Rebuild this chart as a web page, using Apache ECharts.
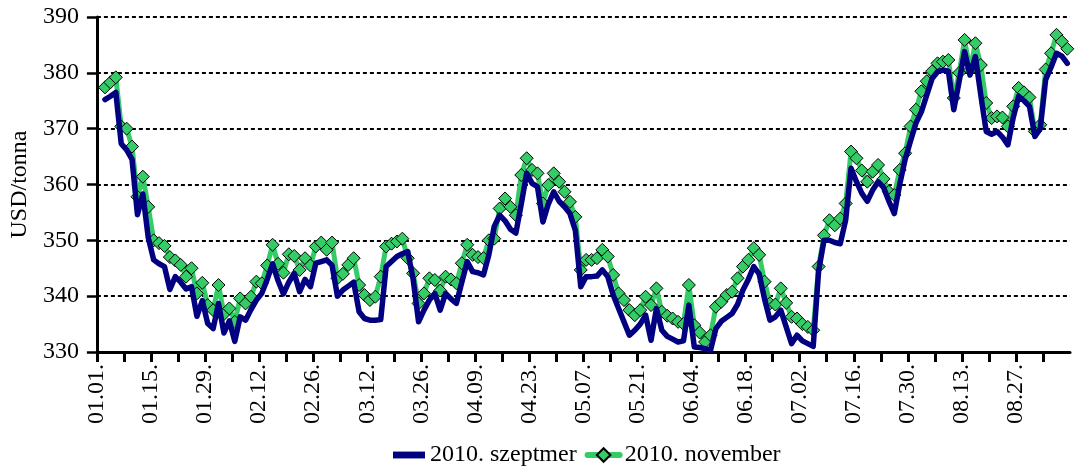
<!DOCTYPE html>
<html>
<head>
<meta charset="utf-8">
<script src="https://cdn.jsdelivr.net/npm/echarts@6/dist/echarts.min.js"></script>
<style>
html,body{margin:0;padding:0;background:#fff;}
#chart{width:1079px;height:468px;}
</style>
</head>
<body>
<div id="chart"></div>
<script>
// Tick labels: every 10th trading day (weekdays from 2010.01.01)
const tickLabels = ['01.01.','01.15.','01.29.','02.12.','02.26.','03.12.','03.26.','04.09.','04.23.','05.07.','05.21.','06.04.','06.18.','07.02.','07.16.','07.30.','08.13.','08.27.'];

// 2010. szeptember contract (USD/tonna), one value per weekday (index 0 = 01.01.)
const sept = [
 null,375.2,375.8,376.5,367.3,366.2,364.5,354.6,358.3,350.5,
 346.5,345.8,345.3,341.2,343.5,342.5,341.3,341.7,336.4,339.2,
 335.1,334.2,338.7,333.4,335.6,331.9,336.3,335.7,337.6,339.3,
 340.5,343.0,345.8,342.8,340.4,342.5,344.1,340.8,343.0,341.7,
 345.9,346.2,346.5,345.5,340.0,341.1,341.8,342.5,337.2,336.0,
 335.7,335.7,335.8,345.3,346.2,347.1,347.6,348.0,343.0,335.4,
 337.5,339.3,340.5,337.5,340.5,339.5,338.7,342.5,346.2,344.4,
 344.2,343.8,347.4,352.5,354.5,353.5,352.0,351.3,356.5,362.0,
 360.2,359.6,353.3,356.5,358.7,357.0,356.0,354.8,351.8,341.7,
 343.5,343.5,343.6,344.7,343.5,340.2,337.8,335.4,333.0,333.9,
 335.0,336.6,332.1,337.8,333.9,332.8,332.3,331.8,332.0,338.4,
 330.9,330.8,330.6,330.3,334.2,335.5,336.2,336.9,338.5,341.1,
 343.0,345.3,344.0,339.5,335.7,336.3,337.5,334.5,331.5,333.0,
 332.0,331.5,331.0,344.5,350.0,350.0,349.6,349.4,353.6,362.9,
 360.5,358.4,357.0,359.0,360.5,359.5,357.0,354.8,360.0,364.5,
 367.8,371.0,373.0,376.0,379.0,380.2,380.5,380.3,373.4,378.5,
 383.8,379.6,382.9,376.0,369.5,369.0,369.5,368.5,367.1,372.0,
 375.8,375.0,374.0,368.6,370.0,378.8,381.0,383.5,383.0,381.7
];

// 2010. november contract (USD/tonna)
const nov = [
 null,377.4,378.3,379.2,370.4,370.0,366.8,357.8,361.4,356.0,
 350.0,349.5,349.0,347.0,346.4,345.6,343.5,345.0,340.5,342.4,
 338.4,337.5,342.0,336.8,337.8,335.4,339.6,338.7,339.9,342.6,
 342.3,345.5,349.2,345.8,344.2,347.5,347.2,344.7,346.8,345.5,
 348.9,349.6,348.3,349.6,343.2,344.0,345.6,346.8,342.0,340.2,
 339.3,339.9,343.5,348.9,349.4,349.8,350.3,346.8,344.1,338.7,
 340.5,343.2,342.9,341.0,343.5,343.0,342.3,345.9,349.2,347.4,
 347.0,346.8,350.0,350.3,355.7,357.5,356.0,354.5,361.7,364.7,
 362.6,362.0,356.6,359.9,362.0,360.5,358.7,356.9,354.2,344.7,
 346.5,346.5,346.8,348.3,347.1,343.8,340.5,339.3,337.5,336.6,
 337.5,339.9,338.4,341.4,337.2,336.5,336.0,335.4,335.0,342.0,
 334.8,333.5,331.8,333.0,338.1,339.0,340.2,340.8,343.2,345.3,
 346.5,348.6,347.4,342.6,338.7,338.5,341.4,338.8,336.3,336.0,
 335.0,334.5,333.9,345.3,350.9,353.6,352.7,353.9,356.6,365.9,
 364.7,362.5,360.5,362.3,363.5,361.0,358.7,358.1,362.6,365.6,
 370.4,373.4,376.7,378.5,380.3,381.7,382.0,382.3,375.5,380.0,
 385.9,380.5,385.3,381.4,374.6,371.9,372.2,372.0,370.4,374.0,
 377.3,376.5,375.6,369.5,370.7,380.6,383.5,386.8,385.6,384.3
];

const seriesNames = ['2010. szeptmer', '2010. november'];
const yTicks = {min: 330, max: 390, step: 10};

function toPairs(arr) {
  const out = [];
  arr.forEach(function (v, i) { if (v !== null) out.push([i + 0.5, v]); });
  return out;
}
const nDays = sept.length;
const tickVals = [];
for (let k = 0; k < nDays; k += 5) tickVals.push(k);
const labelVals = tickLabels.map(function (_, k) { return k * 10; });

const FONT = "'Liberation Serif', 'Times New Roman', serif";
const chart = echarts.init(document.getElementById('chart'), null, {renderer: 'canvas'});
chart.setOption({
  animation: false,
  backgroundColor: '#fff',
  grid: {left: 94, right: 9, top: 17, bottom: 116, containLabel: false},
  legend: {
    data: [
      {name: seriesNames[0], icon: 'path://M0,0 L28,0 L28,6 L0,6 Z'},
      {name: seriesNames[1], lineStyle: {width: 6, color: '#33CC66'}}
    ],
    left: 388, top: 438,
    itemWidth: 32, itemHeight: 17, itemGap: 8,
    textStyle: {fontFamily: FONT, fontSize: 24, color: '#000'}
  },
  xAxis: {
    type: 'value', min: 0, max: nDays,
    axisLine: {show: true, lineStyle: {color: '#000', width: 3}},
    axisTick: {show: true, customValues: tickVals, length: 10, lineStyle: {color: '#000', width: 3}},
    axisLabel: {
      customValues: labelVals, rotate: 90, margin: 12,
      fontFamily: FONT, fontSize: 24, color: '#000',
      formatter: function (v) { return tickLabels[Math.round(v / 10)] || ''; }
    },
    splitLine: {show: false}
  },
  yAxis: {
    type: 'value', min: yTicks.min, max: yTicks.max, interval: yTicks.step,
    name: 'USD/tonna', nameLocation: 'middle', nameGap: 64,
    nameTextStyle: {fontFamily: FONT, fontSize: 24, color: '#000'},
    axisLine: {show: true, lineStyle: {color: '#000', width: 3}},
    axisTick: {show: true, length: 10, lineStyle: {color: '#000', width: 2.5}},
    axisLabel: {margin: 18, fontFamily: FONT, fontSize: 24, color: '#000'},
    splitLine: {show: true, lineStyle: {color: '#000', width: 2, type: [4, 3]}}
  },
  series: [
    {
      name: seriesNames[0], type: 'line', data: toPairs(sept),
      symbol: 'none', z: 3,
      lineStyle: {color: '#000080', width: 5.5, cap: 'round', join: 'round'},
      itemStyle: {color: '#000080'}
    },
    {
      name: seriesNames[1], type: 'line', data: toPairs(nov),
      symbol: 'diamond', symbolSize: 13, showAllSymbol: true, z: 2,
      lineStyle: {color: '#33CC66', width: 5, cap: 'round', join: 'round'},
      itemStyle: {color: '#33CC66', borderColor: '#000', borderWidth: 1}
    }
  ]
});
</script>
</body>
</html>
